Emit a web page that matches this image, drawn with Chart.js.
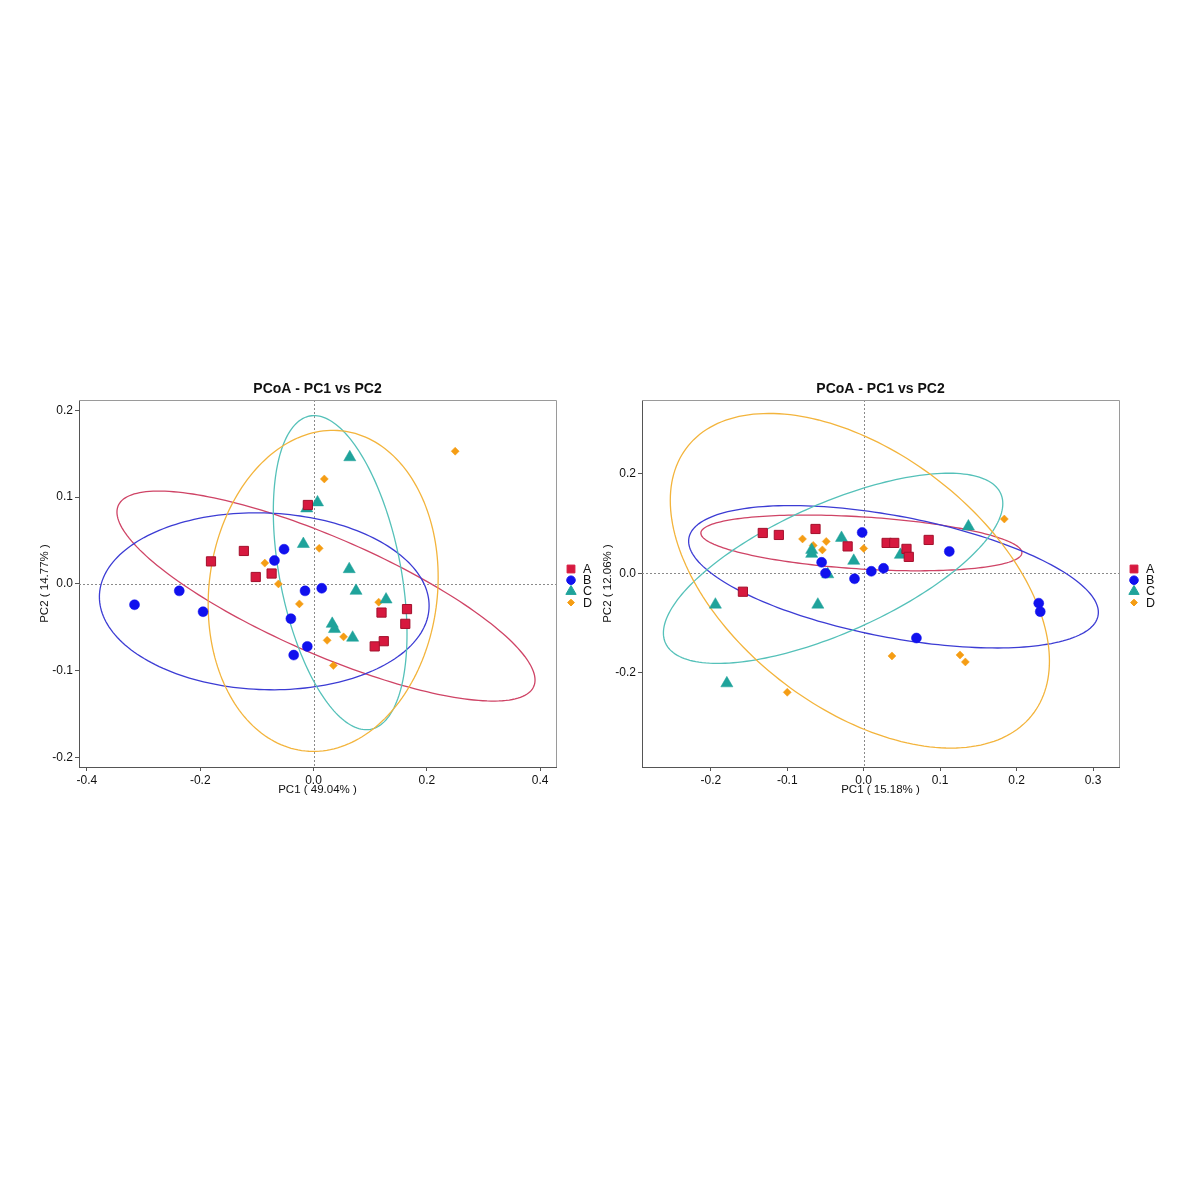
<!DOCTYPE html>
<html>
<head>
<meta charset="utf-8">
<script src="https://cdn.jsdelivr.net/npm/chart.js@4.4.1/dist/chart.umd.min.js"></script>
<style>
  body { margin: 0; background: #fff; }
  #wrap { position: relative; width: 1200px; height: 1200px; }
  .panel { position: absolute; top: 360px; }
</style>
</head>
<body>
<div id="wrap">
  <canvas id="pcoa-left" class="panel" width="600" height="460" style="left:0px"></canvas>
  <canvas id="pcoa-right" class="panel" width="600" height="460" style="left:600px"></canvas>
</div>
<script>
// groups
const groups = ['A', 'B', 'C', 'D'];
const pointColors = ['#d7193f', '#1111ee', '#1fa39b', '#f59d14'];
const ellipseColors = ['#cf4466', '#3c3cd4', '#55c1b9', '#f3b43c'];

// left panel: PC1 (49.04%) vs PC2 (14.77%)
const leftA = [[-0.181, 0.026], [-0.123, 0.038], [-0.102, 0.008], [-0.074, 0.012], [-0.010, 0.091],
  [0.120, -0.033], [0.165, -0.029], [0.162, -0.046], [0.124, -0.066], [0.108, -0.072]];
const leftB = [[-0.052, 0.040], [-0.069, 0.027], [-0.237, -0.008], [-0.316, -0.024], [-0.195, -0.032],
  [-0.015, -0.008], [-0.040, -0.040], [-0.011, -0.072], [-0.035, -0.082], [0.0145, -0.005]];
const leftC = [[0.064, 0.146], [0.007, 0.094], [-0.012, 0.087], [-0.018, 0.046], [0.063, 0.017],
  [0.075, -0.008], [0.128, -0.018], [0.033, -0.046], [0.037, -0.052], [0.069, -0.062]];
const leftD = [[0.250, 0.153], [0.019, 0.121], [0.010, 0.041], [-0.086, 0.024], [-0.062, 0.000],
  [-0.025, -0.023], [0.115, -0.021], [0.024, -0.065], [0.053, -0.061], [0.035, -0.094]];
// confidence ellipses: [centre x, centre y, half width, half height, tilt ratio]
const leftEllipses = [[0.022, -0.014, 0.369, 0.121, -0.80], [-0.087, -0.020, 0.291, 0.102, -0.05],
  [0.047, 0.013, 0.118, 0.181, -0.39], [0.017, -0.008, 0.203, 0.185, 0.085]];
const leftXTicks = [-0.4, -0.2, 0.0, 0.2, 0.4];
const leftYTicks = [-0.2, -0.1, 0.0, 0.1, 0.2];

// right panel: PC1 (15.18%) vs PC2 (12.06%)
const rightA = [[-0.132, 0.081], [-0.111, 0.077], [-0.063, 0.089], [-0.021, 0.054], [0.030, 0.061],
  [0.040, 0.061], [0.056, 0.049], [0.059, 0.033], [0.085, 0.067], [-0.158, -0.037]];
const rightB = [[-0.002, 0.082], [0.112, 0.044], [-0.055, 0.022], [-0.050, 0.000], [-0.012, -0.011],
  [0.010, 0.004], [0.026, 0.010], [0.229, -0.060], [0.231, -0.077], [0.069, -0.130]];
const rightC = [[0.137, 0.094], [-0.029, 0.071], [-0.068, 0.047], [-0.068, 0.039], [-0.013, 0.025],
  [0.048, 0.037], [-0.047, -0.002], [-0.194, -0.063], [-0.060, -0.063], [-0.179, -0.221]];
const rightD = [[-0.080, 0.069], [-0.066, 0.056], [-0.049, 0.064], [-0.054, 0.047], [0.000, 0.050],
  [0.184, 0.109], [-0.100, -0.239], [0.037, -0.166], [0.126, -0.164], [0.133, -0.178]];
const rightEllipses = [[-0.003, 0.061, 0.210, 0.056, -0.35], [0.039, -0.007, 0.268, 0.143, -0.50],
  [-0.040, 0.010, 0.222, 0.191, 0.68], [-0.005, -0.015, 0.248, 0.336, -0.48]];
const rightXTicks = [-0.2, -0.1, 0.0, 0.1, 0.2, 0.3];
const rightYTicks = [-0.2, 0.0, 0.2];

const pointStyles = ['rect', 'circle', 'triangle', 'rectRot'];
const pointRadii = [6.5, 5, 7, 4];
const FONT = '"Liberation Sans", Arial, Helvetica, sans-serif';

// draws zero lines, ellipses, frame, titles and legend
const panelDecor = {
  id: 'panelDecor',
  beforeDatasetsDraw(chart, args, opts) {
    const { ctx, chartArea: a, scales: { x, y } } = chart;
    ctx.save();
    ctx.strokeStyle = '#8a8a8a';
    ctx.lineWidth = 1;
    ctx.setLineDash([2, 2]);
    const x0 = Math.round(x.getPixelForValue(0)) + 0.5;
    const y0 = Math.round(y.getPixelForValue(0)) + 0.5;
    ctx.beginPath();
    ctx.moveTo(x0, a.top); ctx.lineTo(x0, a.bottom);
    ctx.moveTo(a.left, y0); ctx.lineTo(a.right, y0);
    ctx.stroke();
    ctx.setLineDash([]);

    ctx.beginPath();
    ctx.rect(a.left, a.top, a.right - a.left, a.bottom - a.top);
    ctx.clip();
    opts.ellipses.forEach((e, i) => {
      const [cx, cy, w, h, r] = e;
      const s = Math.sqrt(1 - r * r);
      ctx.strokeStyle = ellipseColors[i];
      ctx.lineWidth = 1.3;
      ctx.beginPath();
      for (let k = 0; k <= 200; k++) {
        const t = k / 200 * Math.PI * 2;
        const px = x.getPixelForValue(cx + w * Math.cos(t));
        const py = y.getPixelForValue(cy + h * (r * Math.cos(t) + s * Math.sin(t)));
        if (k === 0) ctx.moveTo(px, py); else ctx.lineTo(px, py);
      }
      ctx.closePath();
      ctx.stroke();
    });
    ctx.restore();
  },
  afterDraw(chart, args, opts) {
    const { ctx, chartArea: a } = chart;
    ctx.save();
    // frame
    ctx.strokeStyle = '#9a9a9a';
    ctx.lineWidth = 1;
    ctx.beginPath();
    ctx.moveTo(a.left, a.top + 0.5); ctx.lineTo(a.right + 0.5, a.top + 0.5); ctx.lineTo(a.right + 0.5, a.bottom);
    ctx.stroke();

    // titles
    const mid = (a.left + a.right) / 2;
    ctx.fillStyle = '#111';
    ctx.textAlign = 'center';
    ctx.textBaseline = 'middle';
    ctx.font = 'bold 14px ' + FONT;
    ctx.fillText(opts.title, mid, a.top - 11);
    ctx.font = '11.5px ' + FONT;
    ctx.fillText(opts.xTitle, mid, a.bottom + 23);
    ctx.save();
    ctx.translate(a.left - 34, (a.top + a.bottom) / 2);
    ctx.rotate(-Math.PI / 2);
    ctx.fillText(opts.yTitle, 0, 0);
    ctx.restore();

    // legend
    const lx = a.right + 15;
    const ly = (a.top + a.bottom) / 2 - 14.5;
    groups.forEach((g, i) => {
      const yy = ly + i * 11.2;
      ctx.fillStyle = pointColors[i];
      ctx.strokeStyle = pointColors[i];
      Chart.helpers.drawPoint(ctx, {
        pointStyle: pointStyles[i], radius: pointRadii[i] * 0.85, borderWidth: 1, rotation: 0
      }, lx, yy);
      ctx.fillStyle = '#111';
      ctx.textAlign = 'left';
      ctx.font = '12.5px ' + FONT;
      ctx.fillText(g, lx + 12, yy + 0.5);
    });
    ctx.restore();
  }
};

function makeDatasets(series) {
  return series.map((pts, i) => ({
    label: groups[i],
    data: pts.map(p => ({ x: p[0], y: p[1] })),
    pointStyle: pointStyles[i],
    pointRadius: pointRadii[i],
    backgroundColor: pointColors[i],
    borderColor: i === 0 ? '#a3102c' : pointColors[i],
    borderWidth: i === 0 ? 1 : 0.5
  }));
}

function axis(min, max, ticks, size, isX) {
  return {
    type: 'linear',
    min: min,
    max: max,
    border: { display: true, color: '#555', width: 1 },
    grid: { display: true, drawOnChartArea: false, drawTicks: true, tickLength: 4, color: '#555' },
    ticks: {
      color: '#111',
      font: { family: FONT, size: 12 },
      padding: 2,
      callback: v => v.toFixed(1)
    },
    afterBuildTicks: s => { s.ticks = ticks.map(v => ({ value: v })); },
    afterFit: s => { if (isX) s.height = size; else s.width = size; }
  };
}

function makePanel(id, series, ellipses, xr, yr, xTicks, yTicks, yWidth, rightPad, labels) {
  return new Chart(document.getElementById(id), {
    type: 'scatter',
    data: { datasets: makeDatasets(series) },
    options: {
      responsive: false,
      animation: false,
      layout: { padding: { left: 0, top: 40, right: rightPad, bottom: 0 } },
      plugins: {
        legend: { display: false },
        tooltip: { enabled: false },
        panelDecor: { ellipses: ellipses, title: labels[0], xTitle: labels[1], yTitle: labels[2] }
      },
      scales: {
        x: axis(xr[0], xr[1], xTicks, 53, true),
        y: axis(yr[0], yr[1], yTicks, yWidth, false)
      }
    },
    plugins: [panelDecor]
  });
}

makePanel('pcoa-left', [leftA, leftB, leftC, leftD], leftEllipses,
  [-0.414, 0.428], [-0.211, 0.212], leftXTicks, leftYTicks, 79, 44,
  ['PCoA - PC1 vs PC2', 'PC1 ( 49.04% )', 'PC2 ( 14.77% )']);

makePanel('pcoa-right', [rightA, rightB, rightC, rightD], rightEllipses,
  [-0.290, 0.334], [-0.389, 0.348], rightXTicks, rightYTicks, 42, 81,
  ['PCoA - PC1 vs PC2', 'PC1 ( 15.18% )', 'PC2 ( 12.06% )']);
</script>
</body>
</html>
